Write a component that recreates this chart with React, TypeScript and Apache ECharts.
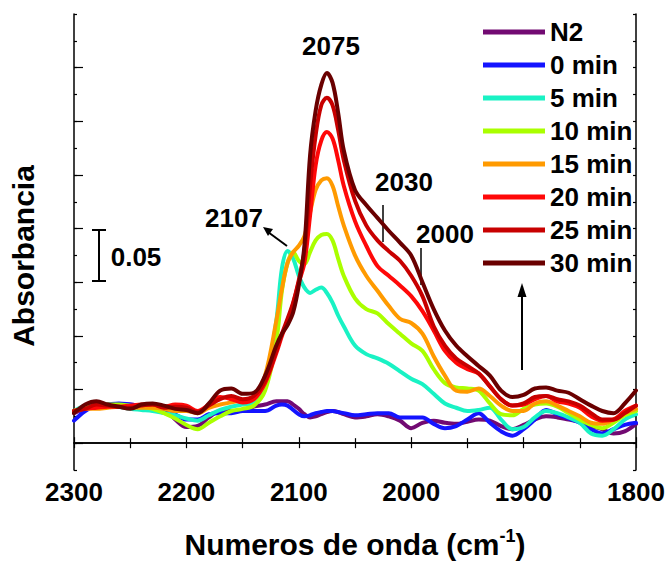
import React, { useEffect, useRef } from "react";
import * as echarts from "echarts";

const wavenumbers = [2300,2290,2280,2270,2260,2250,2240,2230,2220,2210,2200,2190,2180,2170,2160,2150,2140,
  2130,2120,2115,2110,2105,2100,2095,2090,2085,2080,2075,2070,2065,2060,
  2050,2040,2030,2020,2010,2000,1990,1980,1970,1960,1950,1940,1930,1920,1910,1900,1890,1880,1870,1860,1850,1840,1830,1820,1810,1800];

const n2 = [0.028,0.032,0.034,0.036,0.036,0.036,0.034,0.033,0.032,0.022,0.015,0.016,0.024,0.030,0.030,0.030,0.034,
  0.036,0.039,0.039,0.039,0.036,0.032,0.027,0.024,0.025,0.027,0.029,0.030,0.029,0.027,
  0.024,0.025,0.027,0.025,0.021,0.014,0.019,0.021,0.019,0.018,0.020,0.022,0.021,0.016,0.013,0.017,0.022,0.025,0.024,0.022,0.020,0.016,0.013,0.009,0.011,0.018];
const min0 = [0.021,0.030,0.035,0.036,0.037,0.036,0.035,0.035,0.033,0.027,0.022,0.022,0.027,0.028,0.028,0.030,0.030,
  0.030,0.035,0.036,0.035,0.031,0.027,0.025,0.026,0.028,0.029,0.030,0.030,0.029,0.028,
  0.026,0.027,0.028,0.028,0.024,0.024,0.024,0.018,0.014,0.016,0.022,0.028,0.019,0.011,0.007,0.013,0.022,0.031,0.027,0.023,0.019,0.013,0.009,0.013,0.017,0.019];
const min5 = [0.030,0.035,0.036,0.035,0.034,0.032,0.031,0.030,0.028,0.026,0.023,0.021,0.026,0.031,0.034,0.036,0.037,
  0.053,0.114,0.163,0.179,0.172,0.156,0.145,0.140,0.143,0.145,0.140,0.131,0.119,0.109,
  0.091,0.083,0.079,0.074,0.067,0.060,0.055,0.046,0.037,0.033,0.030,0.031,0.033,0.022,0.013,0.015,0.024,0.030,0.028,0.024,0.019,0.009,0.007,0.013,0.022,0.027];
const min10 = [0.030,0.033,0.035,0.036,0.036,0.035,0.034,0.032,0.028,0.023,0.017,0.013,0.019,0.025,0.030,0.032,0.035,
  0.049,0.095,0.142,0.168,0.178,0.170,0.167,0.178,0.189,0.194,0.195,0.189,0.172,0.156,
  0.135,0.125,0.121,0.111,0.102,0.093,0.086,0.069,0.056,0.052,0.051,0.049,0.037,0.027,0.026,0.032,0.036,0.037,0.034,0.028,0.022,0.017,0.014,0.019,0.026,0.030];
const min15 = [0.030,0.032,0.032,0.033,0.034,0.033,0.033,0.033,0.032,0.030,0.030,0.028,0.033,0.036,0.038,0.040,0.041,
  0.063,0.114,0.144,0.168,0.178,0.184,0.193,0.215,0.236,0.245,0.247,0.240,0.221,0.203,
  0.175,0.156,0.142,0.128,0.116,0.112,0.102,0.081,0.063,0.049,0.048,0.051,0.044,0.035,0.030,0.030,0.037,0.039,0.035,0.030,0.025,0.019,0.018,0.022,0.028,0.032];
const min20 = [0.030,0.032,0.033,0.034,0.034,0.035,0.036,0.036,0.034,0.036,0.035,0.030,0.036,0.043,0.041,0.038,0.041,
  0.056,0.084,0.100,0.114,0.130,0.150,0.168,0.212,0.259,0.282,0.290,0.284,0.264,0.240,
  0.207,0.184,0.165,0.156,0.147,0.137,0.123,0.105,0.086,0.075,0.069,0.065,0.053,0.041,0.035,0.036,0.041,0.044,0.039,0.037,0.033,0.025,0.021,0.022,0.030,0.035];
const min25 = [0.030,0.032,0.036,0.035,0.034,0.033,0.035,0.036,0.033,0.034,0.033,0.029,0.035,0.041,0.044,0.041,0.044,
  0.058,0.086,0.102,0.116,0.131,0.152,0.179,0.240,0.287,0.315,0.322,0.315,0.292,0.264,
  0.226,0.203,0.189,0.179,0.170,0.156,0.137,0.109,0.091,0.079,0.072,0.065,0.053,0.041,0.035,0.037,0.043,0.044,0.041,0.039,0.035,0.028,0.022,0.022,0.028,0.035];
const min30 = [0.028,0.036,0.039,0.036,0.034,0.032,0.036,0.037,0.035,0.032,0.031,0.028,0.037,0.049,0.051,0.046,0.047,
  0.063,0.091,0.102,0.110,0.122,0.147,0.184,0.268,0.310,0.334,0.345,0.336,0.308,0.273,
  0.236,0.222,0.210,0.198,0.187,0.175,0.150,0.125,0.105,0.091,0.081,0.072,0.063,0.049,0.043,0.045,0.051,0.052,0.049,0.047,0.041,0.035,0.030,0.028,0.037,0.049];

const seriesNames = ["N2", "0 min", "5 min", "10 min", "15 min", "20 min", "25 min", "30 min"];
const seriesValues = [n2, min0, min5, min10, min15, min20, min25, min30];
const seriesColors = ["#720a72", "#1414ff", "#19f2c4", "#aaff00", "#ff9a00", "#ff0808", "#c80000", "#6a0000"];

const yMajorTicks = [0, 0.05, 0.1, 0.15, 0.2, 0.25, 0.3, 0.35];

const FONT = "Liberation Sans, Arial, Helvetica, sans-serif";

export default function App() {
  const ref = useRef<HTMLDivElement>(null);
  useEffect(() => {
    if (!ref.current) return;
    const chart = echarts.init(ref.current, undefined, { renderer: "svg" });
    const axisLine = { show: true, lineStyle: { color: "#000", width: 1.5 } };
    const tickStyle = { color: "#000", width: 1.2 };
    const series = seriesNames.map((name, s) => ({
      name,
      type: "line",
      data: wavenumbers.map((w, i) => [w, seriesValues[s][i]]),
      showSymbol: false,
      symbol: "none",
      smooth: 0.35,
      lineStyle: { color: seriesColors[s], width: 4, cap: "round", join: "round" },
      itemStyle: { color: seriesColors[s] },
      xAxisIndex: 0,
      yAxisIndex: 0,
      z: 2 + s,
    }));
    const txt = (text: string, x: number, y: number) => ({
      type: "text",
      x,
      y,
      style: { text, font: `bold 26px ${FONT}`, fill: "#000", align: "center", verticalAlign: "middle" },
    });
    chart.setOption({
      animation: false,
      backgroundColor: "#fff",
      grid: { left: 74, top: 14, right: 31, bottom: 91, containLabel: false, outerBoundsMode: "none" },
      legend: {
        data: seriesNames,
        orient: "vertical",
        left: 478,
        top: 14,
        icon: "rect",
        itemWidth: 62,
        itemHeight: 5,
        itemGap: 7,
        textStyle: { fontFamily: FONT, fontSize: 26, fontWeight: "bold", color: "#000", lineHeight: 26 },
      },
      xAxis: [
        {
          type: "value",
          position: "bottom",
          inverse: true,
          min: 1800,
          max: 2300,
          interval: 100,
          axisLine,
          axisTick: { show: true, inside: true, length: 6, lineStyle: tickStyle },
          minorTick: { show: true, splitNumber: 2, length: 5, lineStyle: tickStyle },
          axisLabel: {
            show: true,
            margin: 9,
            formatter: (v: number) => String(v),
            fontFamily: FONT,
            fontSize: 26,
            fontWeight: "bold",
            color: "#000",
          },
          splitLine: { show: false },
          name: "{a|Numeros de onda (cm}{s|-1}{a|)}",
          nameLocation: "middle",
          nameGap: 57,
          nameTextStyle: {
            rich: {
              a: { fontFamily: FONT, fontSize: 30, fontWeight: "bold", color: "#000" },
              s: { fontFamily: FONT, fontSize: 18, fontWeight: "bold", color: "#000", padding: [0, 0, 16, 0] },
            },
          },
        },
        {
          type: "value",
          position: "top",
          inverse: true,
          min: 1800,
          max: 2300,
          interval: 100,
          axisLine,
          axisTick: { show: true, inside: true, length: 5, lineStyle: tickStyle },
          minorTick: { show: true, splitNumber: 2, length: 5, lineStyle: tickStyle },
          axisLabel: { show: false },
          splitLine: { show: false },
        },
      ],
      yAxis: [
        {
          type: "value",
          position: "left",
          min: -0.025,
          max: 0.4,
          interval: 0.025,
          axisLine,
          axisTick: { show: true, inside: true, length: 3, lineStyle: tickStyle },
          axisLabel: { show: false },
          splitLine: { show: false },
          name: "Absorbancia",
          nameLocation: "middle",
          nameGap: 36,
          nameTextStyle: { fontFamily: FONT, fontSize: 30, fontWeight: "bold", color: "#000", padding: [0, 28, 0, 0] },
        },
        {
          type: "value",
          position: "left",
          min: -0.025,
          max: 0.4,
          axisLine: { show: false },
          axisTick: { show: true, inside: true, length: 9, lineStyle: tickStyle, customValues: yMajorTicks },
          axisLabel: { show: false },
          splitLine: { show: false },
        },
        {
          type: "value",
          position: "right",
          min: -0.025,
          max: 0.4,
          interval: 0.025,
          axisLine,
          axisTick: { show: true, inside: true, length: 3, lineStyle: tickStyle },
          axisLabel: { show: false },
          splitLine: { show: false },
        },
      ],
      series,
      graphic: [
        txt("2075", 331, 46),
        txt("2107", 234, 218),
        txt("2030", 404, 182),
        txt("2000", 445, 234),
        txt("0.05", 136, 257),
        { type: "line", shape: { x1: 287, y1: 246, x2: 268, y2: 232 }, style: { stroke: "#000", lineWidth: 2 } },
        { type: "polygon", shape: { points: [[263, 227], [273, 229], [268, 236]] }, style: { fill: "#000" } },
        { type: "line", shape: { x1: 383, y1: 205, x2: 383, y2: 242 }, style: { stroke: "#000", lineWidth: 1.5 } },
        { type: "line", shape: { x1: 421, y1: 248, x2: 421, y2: 285 }, style: { stroke: "#000", lineWidth: 1.5 } },
        { type: "line", shape: { x1: 99, y1: 230, x2: 99, y2: 281 }, style: { stroke: "#000", lineWidth: 2 } },
        { type: "line", shape: { x1: 92, y1: 230, x2: 106, y2: 230 }, style: { stroke: "#000", lineWidth: 2 } },
        { type: "line", shape: { x1: 92, y1: 281, x2: 106, y2: 281 }, style: { stroke: "#000", lineWidth: 2 } },
        { type: "line", shape: { x1: 522, y1: 370, x2: 522, y2: 294 }, style: { stroke: "#000", lineWidth: 2 } },
        { type: "polygon", shape: { points: [[522, 283], [526.5, 297], [517.5, 297]] }, style: { fill: "#000" } },
      ],
    });
    return () => chart.dispose();
  }, []);
  return <div ref={ref} style={{ position: "absolute", left: 0, top: 0, width: 667, height: 561 }} />;
}
